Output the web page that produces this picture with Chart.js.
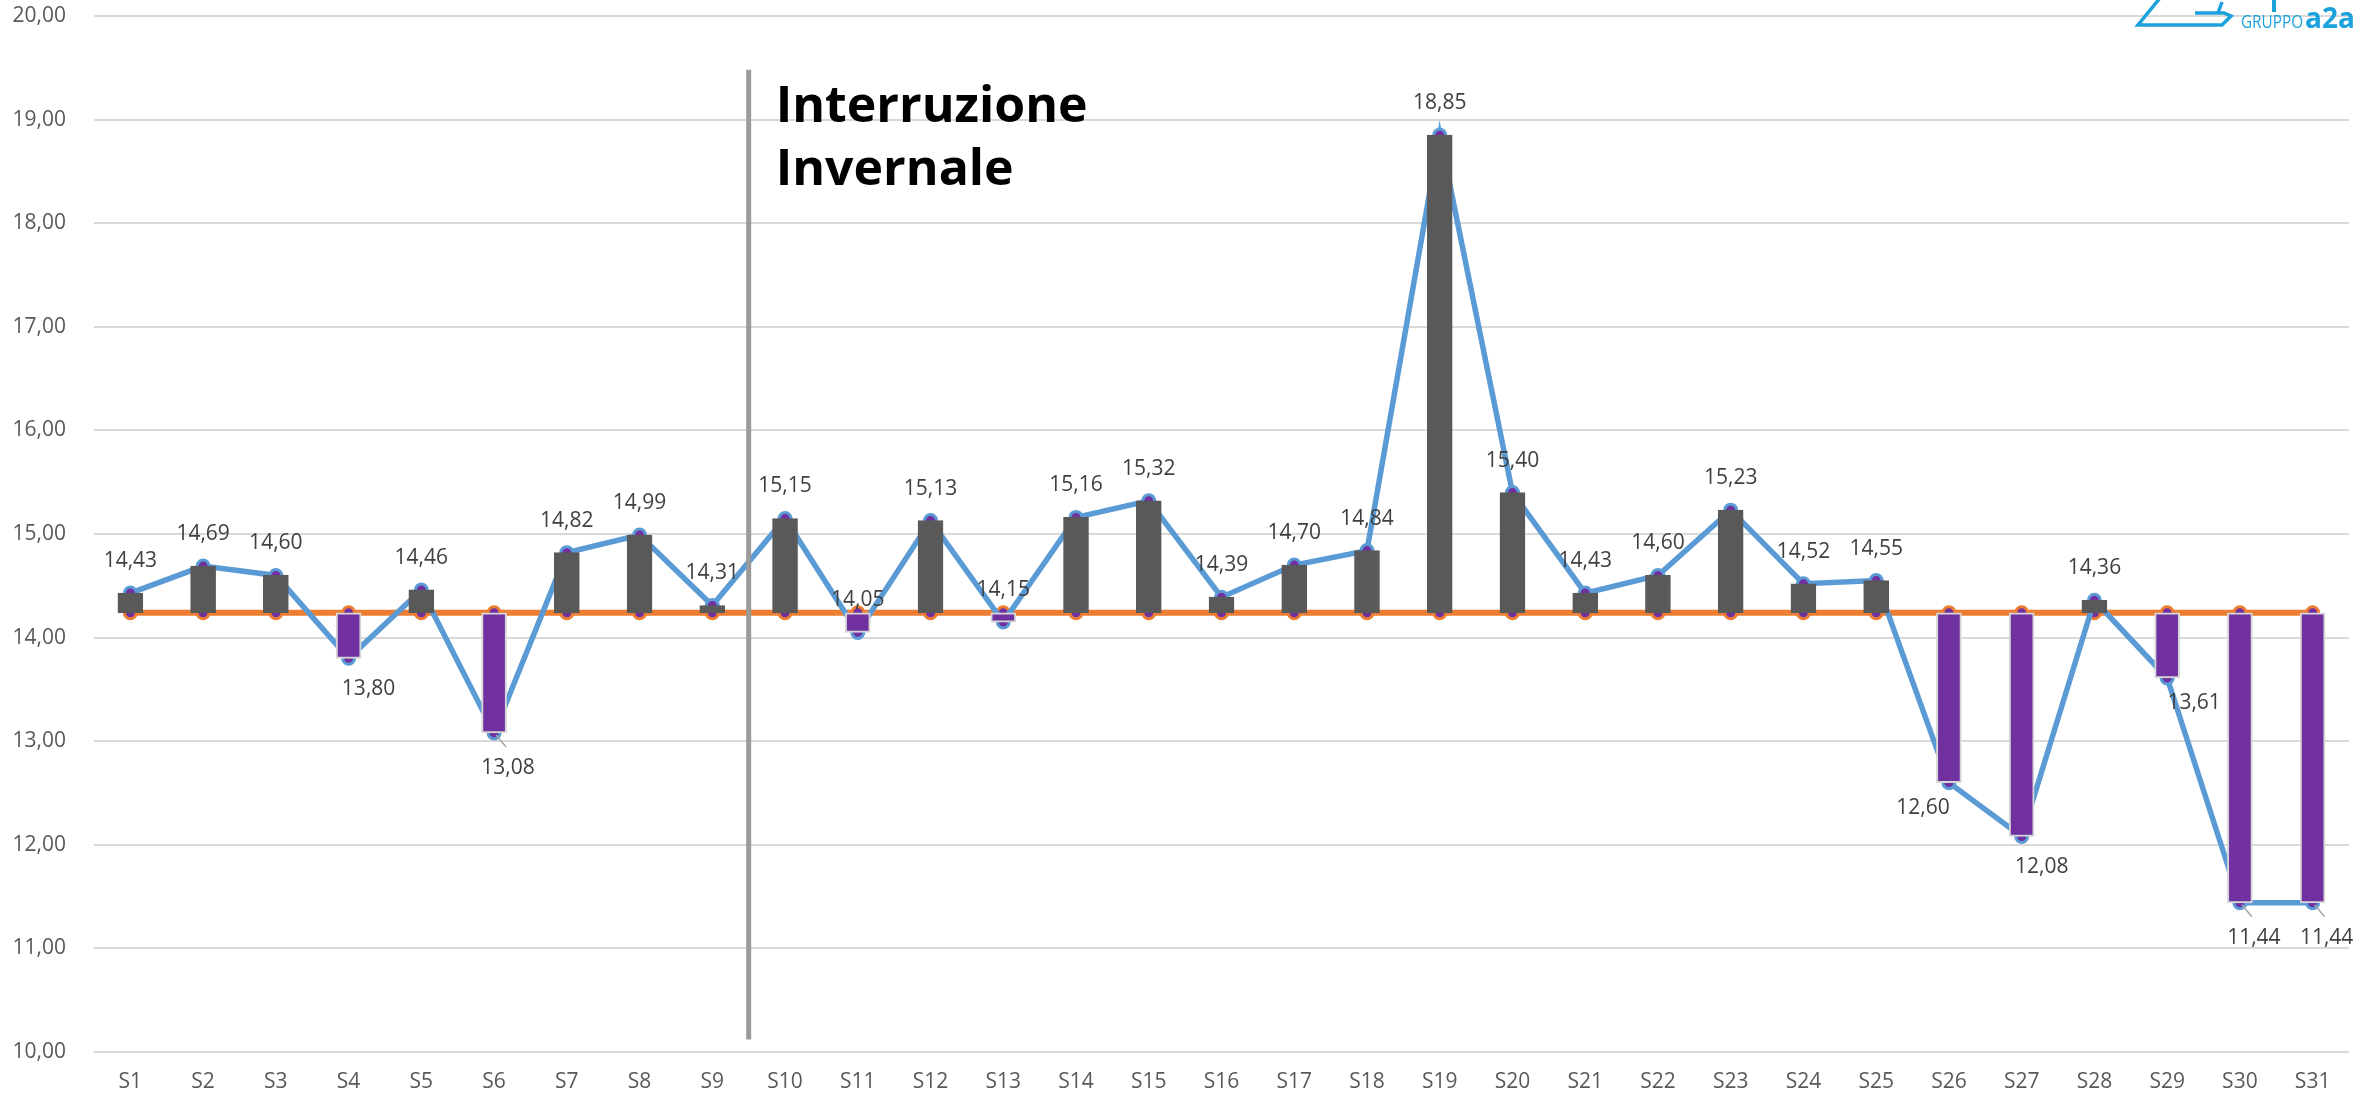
<!DOCTYPE html>
<html>
<head>
<meta charset="utf-8">
<script src="https://cdn.jsdelivr.net/npm/chart.js@4.4.1/dist/chart.umd.min.js"></script>
<style>
html, body { margin: 0; padding: 0; background: #fff; }
</style>
</head>
<body>
<canvas id="myChart" width="2369" height="1096"></canvas>
<script>
// settimane e valori
const settimane = ['S1','S2','S3','S4','S5','S6','S7','S8','S9','S10','S11','S12','S13','S14','S15','S16',
                   'S17','S18','S19','S20','S21','S22','S23','S24','S25','S26','S27','S28','S29','S30','S31'];
const valori = [14.43, 14.69, 14.60, 13.80, 14.46, 13.08, 14.82, 14.99, 14.31, 15.15, 14.05, 15.13, 14.15, 15.16,
                15.32, 14.39, 14.70, 14.84, 18.85, 15.40, 14.43, 14.60, 15.23, 14.52, 14.55, 12.60, 12.08, 14.36,
                13.61, 11.44, 11.44];
const riferimento = 14.24;
const yMin = 10, yMax = 20, yStep = 1;
const nota = ['Interruzione', 'Invernale'];
const notaDopo = 8; // la linea cade tra S9 e S10

const GRIGIO = '#595959', VIOLA = '#7030A0', BLU = '#5B9BD5', ARANCIO = '#ED7D31';
const FONT = "'Open Sans', 'DejaVu Sans', sans-serif";

const fmt = v => v.toFixed(2).replace('.', ',');

// Etichette dei valori, linea verticale, nota e logo
const extraPlugin = {
    id: 'extra',
    afterDatasetsDraw(chart) {
        const ctx = chart.ctx;
        const x = chart.scales.x, y = chart.scales.y;
        const meta = chart.getDatasetMeta(1);

        // linea verticale "Interruzione Invernale"
        const xl = (x.getPixelForValue(notaDopo) + x.getPixelForValue(notaDopo + 1)) / 2;
        ctx.save();
        ctx.strokeStyle = '#9B9B9B';
        ctx.lineWidth = 5;
        ctx.beginPath();
        ctx.moveTo(xl, y.getPixelForValue(19.48));
        ctx.lineTo(xl, y.getPixelForValue(10.12));
        ctx.stroke();

        ctx.fillStyle = '#000';
        ctx.font = 'bold 50px ' + FONT;
        ctx.textAlign = 'left';
        ctx.textBaseline = 'alphabetic';
        ctx.fillText(nota[0], xl + 27, 122);
        ctx.fillText(nota[1], xl + 27, 185);

        // etichette
        ctx.font = '21px ' + FONT;
        ctx.fillStyle = '#404040';
        ctx.textAlign = 'center';
        ctx.textBaseline = 'middle';
        meta.data.forEach((pt, i) => {
            const v = valori[i];
            let dx = 0, dy = -32, leader = false;
            if (v < 13.9) {
                dx = 20; dy = 31;
                if (i === 25) { dx = -26; dy = 25; }
                if (i === 28) { dx = 27; dy = 25; }
                if (i === 5 || i === 29 || i === 30) { leader = true; dx = 14; dy = 35; }
            }
            if (leader) {
                ctx.strokeStyle = '#A6A6A6';
                ctx.lineWidth = 1.5;
                ctx.beginPath();
                ctx.moveTo(pt.x + 2, pt.y + 2);
                ctx.lineTo(pt.x + 12, pt.y + 14);
                ctx.stroke();
            }
            ctx.fillText(fmt(v), pt.x + dx, pt.y + dy);
        });

        // logo (tagliato in alto a destra)
        ctx.strokeStyle = '#1BA1DC';
        ctx.lineWidth = 3.5;
        ctx.lineJoin = 'miter';
        ctx.beginPath();
        ctx.moveTo(2160, -2);
        ctx.lineTo(2138, 25);
        ctx.lineTo(2222, 25);
        ctx.lineTo(2231, 16);
        ctx.lineTo(2224, 13);
        ctx.lineTo(2195, 13);
        ctx.stroke();
        ctx.beginPath();
        ctx.moveTo(2218, 13);
        ctx.lineTo(2222, 2);
        ctx.stroke();
        ctx.fillStyle = '#1BA1DC';
        ctx.fillRect(2272, 0, 4, 12);
        ctx.textAlign = 'left';
        ctx.textBaseline = 'alphabetic';
        ctx.font = '18px ' + FONT;
        ctx.save();
        ctx.translate(2241, 28);
        ctx.scale(0.85, 1);
        ctx.fillText('GRUPPO', 0, 0);
        ctx.restore();
        ctx.font = 'bold 28px ' + FONT;
        ctx.fillText('a2a', 2305, 28);
        ctx.restore();
    }
};

const ctx = document.getElementById('myChart').getContext('2d');
const myChart = new Chart(ctx, {
    data: {
        labels: settimane,
        datasets: [{
            type: 'bar',
            data: valori.map(v => [riferimento, v]),
            backgroundColor: valori.map(v => v >= riferimento ? GRIGIO : VIOLA),
            borderColor: valori.map(v => v >= riferimento ? GRIGIO : '#D6D6D6'),
            borderWidth: 2,
            borderSkipped: false,
            barThickness: 25,
            order: 0
        }, {
            type: 'line',
            data: valori,
            borderColor: BLU,
            borderWidth: 5.5,
            pointRadius: 6,
            pointBorderWidth: 3,
            pointBackgroundColor: VIOLA,
            pointBorderColor: BLU,
            tension: 0,
            order: 1
        }, {
            type: 'line',
            data: settimane.map(() => riferimento),
            borderColor: ARANCIO,
            borderWidth: 6,
            pointRadius: 6,
            pointBorderWidth: 3,
            pointBackgroundColor: VIOLA,
            pointBorderColor: ARANCIO,
            order: 2
        }]
    },
    options: {
        responsive: false,
        animation: false,
        devicePixelRatio: 1,
        layout: { padding: { top: 16, right: 20, left: 0, bottom: 0 } },
        plugins: {
            legend: { display: false },
            tooltip: { enabled: false }
        },
        scales: {
            x: {
                grid: { display: false, drawTicks: false },
                border: { display: false },
                ticks: { color: GRIGIO, font: { family: FONT, size: 21 }, padding: 17, maxRotation: 0, autoSkip: false },
                afterFit: s => { s.height = 44; s.paddingLeft = 0; s.paddingRight = 0; }
            },
            y: {
                min: yMin,
                max: yMax,
                grid: { color: '#D9D9D9', lineWidth: 2, drawTicks: false },
                border: { display: false },
                ticks: { stepSize: yStep, color: GRIGIO, font: { family: FONT, size: 21 }, padding: 28, callback: v => fmt(v) },
                afterFit: s => { s.width = 94; s.paddingTop = 0; s.paddingBottom = 0; }
            }
        }
    },
    plugins: [extraPlugin]
});
</script>
</body>
</html>
